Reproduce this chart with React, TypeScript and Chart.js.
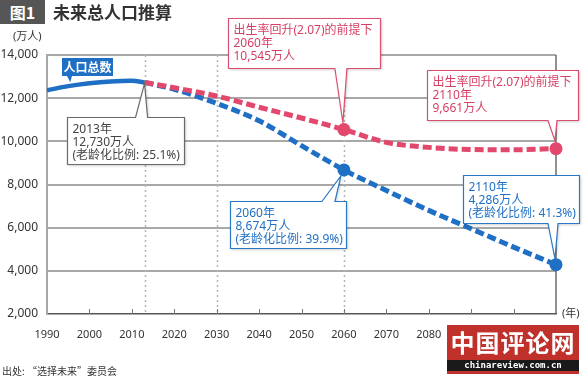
import React, { useEffect, useRef } from "react";
import { Chart, registerables } from "chart.js";

Chart.register(...registerables);

// ---------- data ----------
const histYears = [1990, 1995, 2000, 2005, 2010, 2013];
const histValues = [12361, 12557, 12693, 12777, 12806, 12730];

const projYears = [2013, 2020, 2030, 2040, 2050, 2060, 2070, 2080, 2090, 2100, 2110];
const baseValues = [12730, 12410, 11760, 10950, 9800, 8674, 7720, 6800, 5950, 5100, 4286];
const recoveryValues = [12730, 12480, 12100, 11580, 11080, 10545, 9950, 9720, 9620, 9610, 9661];

const markedYears = [2060, 2110];
const guideYears = [2013, 2030, 2060];
const lastLabelYear = 2080;

const title = "未来总人口推算";
const figLabel = "图1";
const yUnit = "(万人)";
const xUnit = "(年)";
const source = "出处: “选择未来”委员会";
const seriesLabel = "人口总数";

const FONT = '"Noto Sans", "Noto Sans CJK SC", sans-serif';
const CJK = '"Noto Sans CJK SC", "Noto Sans", sans-serif';
const BLUE = "#1f6fc5";
const RED = "#e2476c";

const valueAt = (years: number[], values: number[], yr: number) => values[years.indexOf(yr)];

type Callout = {
  year: number;
  value: number;
  lines: string[];
  theme: "gray" | "blue" | "red";
  dx: number; dy: number; w: number; h: number;
  side: "top" | "bottom";
  b1: number; b2: number; tipDx: number; tipDy: number;
};

const callouts: Callout[] = [
  {
    year: 2013, value: valueAt(histYears, histValues, 2013),
    lines: ["2013年", "12,730万人", "(老龄化比例: 25.1%)"], theme: "gray",
    dx: -78, dy: 35, w: 117, h: 47, side: "top", b1: -9, b2: 3, tipDx: 0, tipDy: 1,
  },
  {
    year: 2060, value: valueAt(projYears, recoveryValues, 2060),
    lines: ["出生率回升(2.07)的前提下", "2060年", "10,545万人"], theme: "red",
    dx: -116, dy: -112, w: 152, h: 50, side: "bottom", b1: -9, b2: 3, tipDx: -1, tipDy: -7,
  },
  {
    year: 2110, value: valueAt(projYears, recoveryValues, 2110),
    lines: ["出生率回升(2.07)的前提下", "2110年", "9,661万人"], theme: "red",
    dx: -129, dy: -79, w: 151, h: 50, side: "bottom", b1: -8, b2: 1, tipDx: -1, tipDy: -8,
  },
  {
    year: 2060, value: valueAt(projYears, baseValues, 2060),
    lines: ["2060年", "8,674万人", "(老龄化比例: 39.9%)"], theme: "blue",
    dx: -114, dy: 31, w: 116, h: 47, side: "top", b1: -22, b2: -9, tipDx: -3, tipDy: 6,
  },
  {
    year: 2110, value: valueAt(projYears, baseValues, 2110),
    lines: ["2110年", "4,286万人", "(老龄化比例: 41.3%)"], theme: "blue",
    dx: -93, dy: -90, w: 116, h: 48, side: "bottom", b1: -8, b2: 2, tipDx: -1, tipDy: -6,
  },
];

const themes = {
  gray: { stroke: "#6a6a6a", text: "#444444" },
  blue: { stroke: "#2a78c8", text: BLUE },
  red: { stroke: "#d9506f", text: "#d63f63" },
};

function drawCallout(ctx: CanvasRenderingContext2D, c: Callout, px: number, py: number) {
  const x = Math.round(px + c.dx) + 0.5;
  const y = Math.round(py + c.dy) + 0.5;
  const { w, h } = c;
  const tx = px + c.tipDx;
  const ty = py + c.tipDy;
  const b1 = px + c.b1;
  const b2 = px + c.b2;
  const th = themes[c.theme];
  ctx.save();
  ctx.beginPath();
  if (c.side === "bottom") {
    ctx.moveTo(x, y);
    ctx.lineTo(x + w, y);
    ctx.lineTo(x + w, y + h);
    ctx.lineTo(b2, y + h);
    ctx.lineTo(tx, ty);
    ctx.lineTo(b1, y + h);
    ctx.lineTo(x, y + h);
  } else {
    ctx.moveTo(x, y);
    ctx.lineTo(b1, y);
    ctx.lineTo(tx, ty);
    ctx.lineTo(b2, y);
    ctx.lineTo(x + w, y);
    ctx.lineTo(x + w, y + h);
    ctx.lineTo(x, y + h);
  }
  ctx.closePath();
  ctx.shadowColor = "rgba(0,0,0,0.25)";
  ctx.shadowBlur = 3;
  ctx.shadowOffsetX = 1;
  ctx.shadowOffsetY = 1;
  ctx.fillStyle = "#ffffff";
  ctx.fill();
  ctx.shadowColor = "transparent";
  ctx.lineWidth = 1.2;
  ctx.strokeStyle = th.stroke;
  ctx.stroke();
  ctx.fillStyle = th.text;
  ctx.font = `12px ${FONT}`;
  ctx.textBaseline = "middle";
  ctx.textAlign = "left";
  c.lines.forEach((line, i) => {
    ctx.fillText(line, x + 5, y + 12.5 + i * 12.8);
  });
  ctx.restore();
}

const overlayPlugin = {
  id: "overlay",
  beforeDatasetsDraw(chart: any) {
    const { ctx, chartArea: a, scales } = chart;
    const xs = scales.x;
    ctx.save();
    ctx.strokeStyle = "#b5b5b5";
    ctx.lineWidth = 1.5;
    ctx.setLineDash([2, 3]);
    guideYears.forEach((yr) => {
      const px = Math.round(xs.getPixelForValue(yr)) + 0.5;
      ctx.beginPath();
      ctx.moveTo(px, a.top);
      ctx.lineTo(px, a.bottom);
      ctx.stroke();
    });
    ctx.setLineDash([]);
    ctx.strokeStyle = "#777";
    ctx.lineWidth = 1;
    xs.ticks.forEach((t: any) => {
      if (t.value <= xs.min || t.value >= xs.max) return;
      const px = Math.round(xs.getPixelForValue(t.value)) + 0.5;
      ctx.beginPath();
      ctx.moveTo(px, a.bottom);
      ctx.lineTo(px, a.bottom - 5);
      ctx.stroke();
    });
    ctx.strokeStyle = "#555";
    ctx.lineWidth = 1.3;
    ctx.beginPath();
    ctx.moveTo(a.right, a.top);
    ctx.lineTo(a.right, a.bottom);
    ctx.stroke();
    ctx.restore();
  },
  afterDatasetsDraw(chart: any) {
    const { ctx, scales } = chart;
    const xs = scales.x;
    const ys = scales.y;
    const ax = xs.getPixelForValue(histYears[1]);
    const ay = ys.getPixelForValue(histValues[1]);
    const bx = Math.round(ax - 6);
    const by = Math.round(ay - 28);
    ctx.save();
    ctx.fillStyle = BLUE;
    ctx.beginPath();
    ctx.moveTo(bx, by);
    ctx.lineTo(bx + 51, by);
    ctx.lineTo(bx + 51, by + 18);
    ctx.lineTo(bx + 10, by + 18);
    ctx.lineTo(ax + 2, ay - 4);
    ctx.lineTo(bx + 5, by + 18);
    ctx.lineTo(bx, by + 18);
    ctx.closePath();
    ctx.fill();
    ctx.fillStyle = "#fff";
    ctx.font = `bold 12px ${CJK}`;
    ctx.textBaseline = "middle";
    ctx.textAlign = "center";
    ctx.fillText(seriesLabel, bx + 25.5, by + 9.5);
    ctx.restore();

    callouts.forEach((c) => {
      drawCallout(ctx, c, xs.getPixelForValue(c.year), ys.getPixelForValue(c.value));
    });
  },
};

const toPts = (years: number[], values: number[]) => years.map((yr, i) => ({ x: yr, y: values[i] }));
const markerRadius = (ctx: any) => (ctx.raw && markedYears.includes(ctx.raw.x) ? 6.5 : 0);

export default function App() {
  const ref = useRef<HTMLCanvasElement | null>(null);

  useEffect(() => {
    if (!ref.current) return;
    const chart = new Chart(ref.current, {
      type: "line",
      data: {
        datasets: [
          {
            label: "recovery",
            data: toPts(projYears, recoveryValues),
            borderColor: RED,
            backgroundColor: RED,
            borderWidth: 5,
            borderDash: [9, 4],
            cubicInterpolationMode: "monotone",
            pointRadius: markerRadius,
            pointBorderWidth: 0,
            clip: false,
            order: 0,
          },
          {
            label: "base",
            data: toPts(projYears, baseValues),
            borderColor: BLUE,
            backgroundColor: BLUE,
            borderWidth: 5,
            borderDash: [9, 4],
            cubicInterpolationMode: "monotone",
            pointRadius: markerRadius,
            pointBorderWidth: 0,
            clip: false,
            order: 1,
          },
          {
            label: "history",
            data: toPts(histYears, histValues),
            borderColor: BLUE,
            borderWidth: 4.5,
            cubicInterpolationMode: "monotone",
            pointRadius: 0,
            order: 2,
          },
        ],
      },
      options: {
        animation: false,
        responsive: false,
        events: [],
        layout: { padding: { top: 55, right: 28, left: 0, bottom: 0 } },
        plugins: { legend: { display: false }, tooltip: { enabled: false } },
        scales: {
          x: {
            type: "linear",
            min: 1990,
            max: 2110,
            ticks: {
              stepSize: 10,
              autoSkip: false,
              maxRotation: 0,
              padding: 14,
              color: "#333",
              font: { size: 11, family: FONT },
              callback: (v: any) => (Number(v) <= lastLabelYear ? String(v) : ""),
            },
            grid: { display: true, drawOnChartArea: false, drawTicks: false },
            border: { display: true, color: "#555", width: 1.5 },
            afterFit: (s: any) => {
              s.height = 66;
            },
          },
          y: {
            min: 2000,
            max: 14000,
            ticks: {
              stepSize: 2000,
              padding: 9,
              color: "#333",
              font: { size: 12, family: FONT },
              callback: (v: any) => Number(v).toLocaleString("en-US"),
            },
            grid: {
              color: (c: any) => (c.tick && c.tick.value === 2000 ? "rgba(0,0,0,0)" : "#a8a8a8"),
              lineWidth: 2,
              drawTicks: false,
            },
            border: { display: true, color: "#a8a8a8", width: 2 },
            afterFit: (s: any) => {
              s.width = 47;
            },
          },
        },
      },
      plugins: [overlayPlugin],
    });
    return () => chart.destroy();
  }, []);

  const abs: React.CSSProperties = { position: "absolute", fontFamily: CJK, whiteSpace: "nowrap" };

  return (
    <div style={{ position: "fixed", left: 0, top: 0, width: 584, height: 380, background: "#fff", overflow: "hidden" }}>
      <canvas ref={ref} width={584} height={380} style={{ position: "absolute", left: 0, top: 0, width: 584, height: 380 }} />
      <div style={{ ...abs, left: 0, top: 0, width: 45, height: 24, background: "#555", color: "#fff", fontWeight: 700, fontSize: 16, lineHeight: "24px", textAlign: "center" }}>
        {figLabel}
      </div>
      <div style={{ ...abs, left: 53, top: 0, height: 24, lineHeight: "24px", color: "#333", fontWeight: 700, fontSize: 17 }}>{title}</div>
      <div style={{ ...abs, left: 13, top: 29, fontSize: 11, color: "#333", lineHeight: "14px", fontFamily: FONT }}>{yUnit}</div>
      <div style={{ ...abs, left: 562, top: 306, fontSize: 11, color: "#333", lineHeight: "14px", fontFamily: FONT }}>{xUnit}</div>
      <div style={{ ...abs, left: 2, top: 364, fontSize: 10, color: "#333", lineHeight: "14px" }}>{source}</div>
      <div style={{ position: "absolute", left: 447, top: 325, width: 132, height: 49, background: "#c0312b" }}>
        <div style={{ ...abs, left: 0, top: 2, width: 132, textAlign: "center", color: "#fff", fontWeight: 700, fontSize: 24, lineHeight: "30px", letterSpacing: 1 }}>中国评论网</div>
        <div style={{ ...abs, left: 0, top: 35, width: 132, height: 11, background: "#1a1a1a", color: "#fff", fontSize: 9, fontWeight: 700, lineHeight: "11px", textAlign: "center", fontFamily: '"DejaVu Sans Mono", monospace' }}>
          chinareview.com.cn
        </div>
      </div>
    </div>
  );
}
